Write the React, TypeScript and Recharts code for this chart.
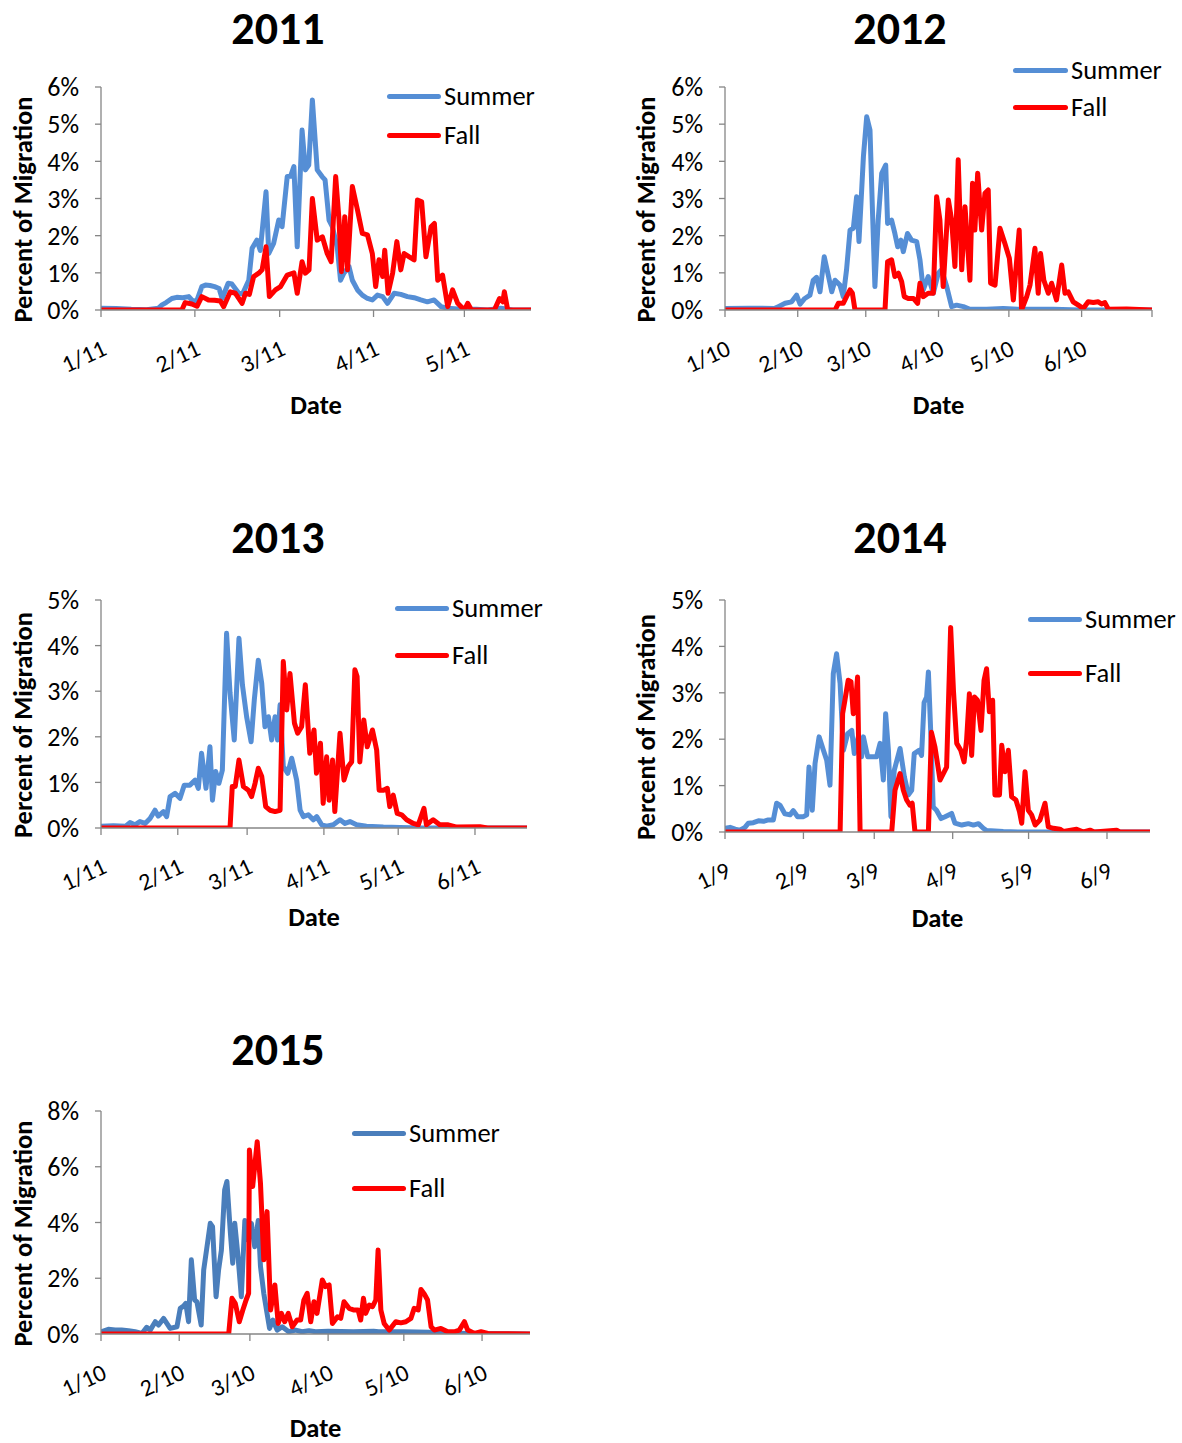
import React from 'react';
import { LineChart, Line, XAxis, YAxis, Legend } from 'recharts';

const FONT = 'Carlito, Lato, "Open Sans", sans-serif';
const AXIS = '#868686';
const BLUE = '#558ED5';
const BLUE2015 = '#4A7EBB';
const RED = '#FF0000';

type P = [number, number][];

// day offset from first tick date, percent of migration
const summer2011: P = [[0,0.05],[5,0.04],[10,0.02],[15,0.01],[19,0.05],[20,0.13],[21.5,0.2],[23.4,0.31],[25,0.34],[27,0.33],[29,0.36],[30,0.27],[31.5,0.22],[33.3,0.63],[34.5,0.67],[36,0.66],[37.5,0.63],[39,0.58],[40,0.31],[42,0.72],[43.2,0.7],[45.5,0.45],[46.8,0.44],[48.8,0.8],[49.9,1.66],[51.5,1.88],[52.6,1.6],[54.5,3.18],[55.4,1.52],[57,1.79],[58.7,2.42],[59.8,2.24],[61.5,3.59],[62.6,3.6],[63.7,3.86],[64.8,1.7],[66.4,4.84],[67.5,3.77],[68.6,3.9],[69.8,5.65],[71.4,3.77],[73,3.59],[74,3.5],[75.3,2.42],[76.4,2.24],[78,1.7],[79.1,0.8],[80.2,0.99],[81.9,1.17],[83,0.8],[84.7,0.54],[86.3,0.4],[88,0.31],[89.6,0.27],[91.3,0.4],[93,0.36],[94.6,0.18],[96.8,0.45],[99,0.42],[101.2,0.36],[103.4,0.33],[105.6,0.27],[107.8,0.22],[110,0.27],[112.3,0.09],[114.5,0.05],[119,0.02],[124,0.02],[127.7,0],[132,0.05],[134.3,0.02],[136,0],[142,0]];
const fall2011: P = [[0,0],[26.7,0],[27.8,0.2],[30,0.16],[31.7,0.1],[33.3,0.36],[35.5,0.27],[37.5,0.26],[39.4,0.24],[40.5,0.09],[42.7,0.49],[44.4,0.45],[46.6,0.18],[47.7,0.45],[49,0.42],[50.4,0.9],[52.1,0.99],[53.2,1.08],[54.5,1.7],[55.6,0.36],[57.6,0.54],[59.3,0.63],[61.5,0.94],[63.7,1.0],[64.8,0.45],[66.4,1.3],[67.5,0.99],[68.7,1.08],[69.8,3.0],[71.4,1.88],[73.1,1.97],[74.7,1.52],[76,1.3],[77.5,3.59],[78.6,2.42],[79.4,1.03],[80.5,2.51],[81.4,1.08],[83,3.32],[84.7,2.69],[86.3,2.06],[88,2.02],[89.6,1.52],[90.7,0.63],[91.8,1.35],[93,0.9],[93.7,1.61],[94.8,0.45],[96.3,0.99],[97.7,1.84],[99,1.08],[100.1,1.52],[101.8,1.43],[103.4,1.35],[104.5,2.96],[105.9,2.91],[107.3,1.43],[109,2.24],[110.1,2.33],[111.2,0.8],[112.8,0.94],[114.5,0.09],[116.1,0.54],[117.8,0.18],[120,0],[121.1,0.18],[122.3,0],[129.9,0],[131.6,0.31],[132.7,0.22],[133.2,0.49],[134.3,0],[142,0]];

const summer2012: P = [[0,0.04],[10,0.05],[21,0.04],[22.7,0.09],[25.6,0.18],[28.4,0.22],[30.5,0.4],[32,0.16],[34,0.31],[36.2,0.4],[37.6,0.8],[39,0.88],[40.5,0.49],[42.3,1.43],[44,0.94],[45.5,0.49],[46.9,0.8],[49,0.67],[50.4,0.36],[51.8,1.08],[53.3,2.15],[54.7,2.2],[56.1,3.05],[57.1,1.84],[59,4.13],[60.4,5.2],[61.8,4.84],[62.8,2.78],[63.9,0.63],[65.3,2.42],[66.8,3.68],[68.5,3.9],[69.3,2.33],[71,2.42],[72.4,2.06],[73.6,1.7],[75,1.88],[76,1.57],[77.8,2.06],[79.5,1.88],[81.7,1.84],[83.1,1.35],[84.5,0.54],[86.6,0.9],[88.8,0.45],[90.9,0.99],[92.3,1.08],[94.5,0.63],[96.6,0.09],[98.7,0.13],[101.6,0.09],[104.4,0.02],[111.5,0.02],[118.6,0.04],[125,0.02],[140,0.02],[151.3,0],[182,0]];
const fall2012: P = [[0,0],[46.9,0],[48.3,0.18],[50.4,0.18],[51.8,0.36],[53.3,0.54],[54.3,0.45],[55.4,0],[68.2,0],[69.3,1.3],[71,1.35],[72.4,0.9],[73.9,0.99],[75.3,0.76],[76.4,0.36],[78.1,0.31],[80.3,0.31],[82.1,0.18],[83.1,0.72],[84.5,0.36],[86.6,0.45],[88.8,0.45],[90.2,3.05],[91.6,2.42],[93,0.63],[95.2,2.96],[96.6,2.42],[98,1.17],[99.4,4.04],[100.9,1.08],[102.3,2.78],[104.4,0.8],[105.5,3.41],[106.5,2.15],[107.7,3.68],[109.4,2.15],[110.8,3.14],[112.2,3.23],[113.2,0.72],[115.1,0.67],[117.2,2.2],[119.3,1.79],[121.2,1.39],[122.9,0.27],[125.4,2.15],[126.4,0],[128.6,0.36],[130,0.67],[132.1,1.66],[133.5,0.45],[134.5,1.52],[135.9,0.8],[137.8,0.45],[139.2,0.72],[141.3,0.27],[143.5,1.21],[144.9,0.45],[146.3,0.49],[148.4,0.22],[150.6,0.13],[152.7,0.04],[154.8,0.22],[157,0.2],[159.1,0.22],[160.5,0.16],[161.9,0.2],[163.4,0.02],[171.2,0.03],[182,0]];

const summer2013: P = [[0,0.04],[5,0.05],[10,0.04],[11.7,0.12],[13.7,0.07],[15.7,0.14],[17.8,0.1],[19.8,0.21],[21.8,0.39],[23.1,0.26],[25.2,0.36],[26.5,0.25],[27.9,0.69],[29.9,0.76],[31.9,0.65],[33.6,0.94],[35.9,0.94],[38,1.05],[39.3,0.87],[40.6,1.64],[42.4,0.87],[44,1.78],[45,0.61],[46.3,1.24],[47.6,0.98],[49,1.27],[50.7,4.27],[52.1,2.96],[53.8,1.93],[55.7,4.16],[57.1,3.14],[58.8,2.44],[60.6,1.89],[61.9,2.81],[63.5,3.68],[64.9,3.17],[66.2,2.22],[67.6,2.44],[68.9,1.93],[70.3,2.44],[71.3,1.93],[72.3,2.7],[73.6,1.35],[75.4,1.2],[77,1.53],[79,1.05],[80.4,0.39],[81.7,0.25],[83.7,0.29],[85.7,0.18],[87.1,0.25],[89.1,0.07],[91.1,0.04],[93.8,0.07],[96.5,0.18],[98.5,0.1],[100.5,0.14],[103.2,0.07],[107.2,0.04],[114,0.02],[120.7,0.01],[130,0],[172,0]];
const fall2013: P = [[0,0],[52.1,0],[53,0.91],[54.2,0.91],[55.7,1.49],[57.5,0.91],[59.5,0.83],[60.8,0.69],[62.2,0.98],[63.5,1.31],[64.9,1.13],[66.5,0.47],[68.2,0.39],[70.3,0.36],[72.3,0.39],[73.6,3.65],[75,2.59],[76.3,3.39],[78.1,2.3],[79.4,2.08],[81,2.22],[82.5,3.14],[84.3,1.64],[86,2.15],[87,1.2],[88.6,1.86],[89.7,0.54],[91.1,1.56],[92.1,0.61],[93.5,1.49],[94.4,0.36],[96.5,2.08],[98.1,1.05],[99.8,1.35],[101.2,1.45],[102.5,3.47],[103.4,3.32],[104.5,1.45],[106.1,2.37],[107.5,1.78],[109.6,2.15],[111.3,1.71],[112.3,0.83],[114,0.83],[115.6,0.87],[116.6,0.47],[118,0.72],[119.6,0.32],[121.4,0.29],[123.4,0.18],[126.1,0.1],[128.1,0.07],[130.4,0.43],[131.4,0.07],[134.1,0.18],[136.8,0.07],[140.2,0.07],[143.6,0.02],[153,0.03],[156,0],[172,0]];

const summer2014: P = [[0,0.08],[2,0.1],[4,0.06],[5.9,0.04],[7.9,0.1],[9.2,0.19],[11.2,0.2],[13.2,0.24],[15.2,0.23],[17.1,0.26],[19.1,0.26],[20.4,0.62],[21.7,0.58],[23.7,0.39],[25.7,0.37],[27,0.46],[28.7,0.33],[31,0.33],[32.3,0.37],[33.2,1.4],[34.5,0.47],[35.6,1.48],[37.2,2.05],[38.9,1.76],[40.2,1.55],[41.5,1.01],[42.8,3.41],[44.1,3.84],[45.5,3.2],[46.8,1.76],[48.5,2.12],[50.1,2.19],[51.1,1.69],[52.7,2.05],[54,1.62],[54.7,2.05],[56.4,1.62],[58.6,1.62],[59.9,1.62],[61.3,1.91],[62.6,1.12],[63.5,2.55],[64.6,1.76],[65.6,0.33],[66.9,1.33],[69.2,1.8],[70.9,1.19],[72.5,0.8],[73.8,0.9],[74.8,1.69],[76.7,1.76],[77.7,1.65],[78.7,2.79],[79.7,2.91],[80.4,3.45],[81.4,2.05],[82.3,0.54],[83.6,0.47],[85.4,0.29],[87,0.33],[89.6,0.4],[90.9,0.19],[93.6,0.15],[96.2,0.18],[98.2,0.15],[100.2,0.18],[102.1,0.08],[103.4,0.03],[110,0.01],[116.6,0],[168,0]];
const fall2014: P = [[0,0],[45.5,0],[46.5,2.55],[47.4,2.84],[48.7,3.27],[49.8,3.24],[50.7,2.55],[51.4,2.62],[52.4,3.34],[53.4,0],[65.9,0],[67.2,0.9],[69.2,1.26],[70.5,0.9],[71.8,0.69],[73.1,0.58],[74,0.62],[75.1,0],[80.4,0],[81.6,2.15],[83,1.83],[85,1.12],[86.3,1.26],[87.6,1.4],[89.2,4.41],[90.3,3.05],[91.6,1.91],[93.2,1.76],[94.5,1.51],[95.5,1.98],[96.6,2.98],[97.5,1.65],[98.6,2.91],[99.8,2.84],[101.2,2.19],[102.4,3.27],[103.4,3.52],[104.5,2.59],[105.8,2.84],[106.7,0.8],[108.5,0.8],[109.4,1.87],[110.7,1.3],[112,1.76],[113.3,0.76],[115,0.69],[116.4,0.44],[117.3,0.19],[118.6,1.3],[119.9,0.47],[121.2,0.37],[122.6,0.15],[124.5,0.26],[126.5,0.62],[127.8,0.11],[129.8,0.08],[132.4,0.06],[133.8,0.01],[139,0.06],[141.7,0],[144.3,0.04],[146,0],[154.8,0.04],[156,0],[168,0]];

const summer2015: P = [[0,0.08],[2.9,0.17],[5.6,0.14],[8.2,0.14],[10.9,0.12],[13.5,0.08],[16.2,0.02],[18.1,0.24],[19.5,0.14],[21.5,0.44],[22.8,0.32],[24.8,0.56],[26.1,0.38],[27.4,0.2],[30.1,0.26],[31.4,0.92],[32.7,1.0],[33.6,1.1],[34.7,0.44],[35.8,2.66],[37.1,1.22],[38,1.16],[39.7,0.32],[40.7,2.3],[42,3.13],[43.3,3.97],[44.2,3.85],[45.6,1.34],[46.6,2.3],[47.7,3.0],[49,5.17],[49.9,5.47],[51.3,3.59],[52.2,2.54],[53,3.97],[54.3,2.78],[55.6,1.34],[57,4.07],[58.3,3.37],[59.6,3.97],[60.9,3.13],[62.3,4.07],[63.2,2.42],[64.5,1.46],[65.8,0.74],[66.8,0.2],[68.1,0.5],[69.8,0.14],[71.8,0.26],[74.4,0.08],[77.1,0.14],[79.7,0.08],[82.4,0.12],[85,0.08],[90,0.1],[100,0.08],[108,0.1],[110,0.08],[120,0.08],[130,0.06],[140,0.03],[150,0.02],[160,0.01],[170,0]];
const fall2015: P = [[0,0],[50.6,0],[51.9,1.28],[53.2,1.1],[54.8,0.44],[56.2,0.86],[57.5,1.22],[58.5,1.46],[58.8,6.6],[60.1,5.29],[61.9,6.9],[63.2,5.4],[64.5,2.66],[65.8,4.39],[67.2,0.86],[68.9,1.76],[70.2,0.38],[71.5,0.74],[72.8,0.44],[74.2,0.74],[75.8,0.26],[77.7,0.5],[79.1,0.5],[80.4,1.22],[81.7,1.46],[83.1,0.44],[84.4,1.16],[85.6,0.74],[87.7,1.94],[89,1.7],[90.4,1.76],[91.7,0.38],[93.7,0.62],[95,0.56],[96.3,1.16],[98.3,0.92],[100.3,0.86],[101.9,0.86],[102.9,0.5],[104,1.28],[104.9,0.74],[106.3,1.04],[107.6,0.98],[108.9,1.22],[109.8,3.01],[110.9,0.86],[112.2,0.38],[114.2,0.14],[116.8,0.44],[118.8,0.4],[120.8,0.44],[122.8,0.56],[124.1,0.92],[125.7,0.86],[126.8,1.6],[128.1,1.44],[129.4,1.22],[130.8,0.26],[132.1,0.14],[134.7,0.2],[137.4,0.08],[140,0.08],[142,0.14],[144,0.44],[145.3,0.14],[148,0.02],[150.6,0.08],[153.3,0.02],[170,0]];

const ticks2011 = [0, 31, 59, 90, 120];
const labels2011 = ['1/11', '2/11', '3/11', '4/11', '5/11'];
const ticks2012 = [0, 31, 60, 91, 121, 152, 182];
const labels2012 = ['1/10', '2/10', '3/10', '4/10', '5/10', '6/10', ''];
const ticks2013 = [0, 31, 59, 90, 120, 151];
const labels2013 = ['1/11', '2/11', '3/11', '4/11', '5/11', '6/11'];
const ticks2014 = [0, 31, 59, 90, 120, 151];
const labels2014 = ['1/9', '2/9', '3/9', '4/9', '5/9', '6/9'];
const ticks2015 = [0, 31, 59, 90, 120, 151];
const labels2015 = ['1/10', '2/10', '3/10', '4/10', '5/10', '6/10'];

const yTicks6 = [0, 1, 2, 3, 4, 5, 6];
const yTicks5 = [0, 1, 2, 3, 4, 5];
const yTicks8 = [0, 2, 4, 6, 8];

const panels = [
  { title: '2011', titleCx: 278, titleTop: 5, svg: { left: 0, top: 50, width: 560, height: 380 }, plot: { left: 101, right: 531, top: 87, bottom: 310 }, yTicks: yTicks6, xMax: 142, xTicks: ticks2011, xLabels: labels2011, summer: summer2011, fall: fall2011, summerColor: BLUE, legend: { x: 387, textX: 444, y1: 96, y2: 135 }, yLabelX: 23, dateY: 405 },
  { title: '2012', titleCx: 900, titleTop: 5, svg: { left: 600, top: 50, width: 582, height: 380 }, plot: { left: 725, right: 1152, top: 87, bottom: 310 }, yTicks: yTicks6, xMax: 182, xTicks: ticks2012, xLabels: labels2012, summer: summer2012, fall: fall2012, summerColor: BLUE, legend: { x: 1013, textX: 1071, y1: 70, y2: 107 }, yLabelX: 646, dateY: 405 },
  { title: '2013', titleCx: 278, titleTop: 514, svg: { left: 0, top: 560, width: 560, height: 380 }, plot: { left: 101, right: 527, top: 600, bottom: 828 }, yTicks: yTicks5, xMax: 172, xTicks: ticks2013, xLabels: labels2013, summer: summer2013, fall: fall2013, summerColor: BLUE, legend: { x: 395, textX: 452, y1: 608, y2: 655 }, yLabelX: 23, dateY: 917 },
  { title: '2014', titleCx: 900, titleTop: 514, svg: { left: 600, top: 560, width: 582, height: 380 }, plot: { left: 725, right: 1150, top: 600, bottom: 832 }, yTicks: yTicks5, xMax: 168, xTicks: ticks2014, xLabels: labels2014, summer: summer2014, fall: fall2014, summerColor: BLUE, legend: { x: 1028, textX: 1085, y1: 619, y2: 673 }, yLabelX: 646, dateY: 918 },
  { title: '2015', titleCx: 278, titleTop: 1026, svg: { left: 0, top: 1072, width: 560, height: 371 }, plot: { left: 101, right: 530, top: 1111, bottom: 1334 }, yTicks: yTicks8, xMax: 170, xTicks: ticks2015, xLabels: labels2015, summer: summer2015, fall: fall2015, summerColor: BLUE2015, legend: { x: 352, textX: 409, y1: 1133, y2: 1188 }, yLabelX: 23, dateY: 1428 },
];

type Cfg = typeof panels[number];

const toRows = (p: P) => p.map(([d, v]) => ({ d, v }));

function XTick(props: any) {
  const { x, payload, c } = props;
  const idx = c.xTicks.indexOf(payload.value);
  const label = idx >= 0 ? c.xLabels[idx] : '';
  const bx = x + 7;
  const by = c.plot.bottom - c.svg.top + 44;
  return (
    <text x={bx} y={by} textAnchor="end" transform={`rotate(-25, ${bx}, ${by})`} fontSize={24} fontFamily={FONT} fill="#000">
      {label}
    </text>
  );
}

function YLab({ c }: { c: Cfg }) {
  const x = c.yLabelX - c.svg.left;
  const y = (c.plot.top + c.plot.bottom) / 2 + 11 - c.svg.top;
  return (
    <text x={x} y={y} transform={`rotate(-90, ${x}, ${y})`} textAnchor="middle" dominantBaseline="central" fontSize={26.5} fontWeight="bold" fontFamily={FONT} fill="#000">
      Percent of Migration
    </text>
  );
}

function DateLab({ c }: { c: Cfg }) {
  const x = (c.plot.left + c.plot.right) / 2 - c.svg.left;
  const y = c.dateY - c.svg.top;
  return (
    <text x={x} y={y} textAnchor="middle" dominantBaseline="central" fontSize={26.5} fontWeight="bold" fontFamily={FONT} fill="#000">
      Date
    </text>
  );
}

function LegendBox({ c }: { c: Cfg }) {
  const top0 = c.legend.y1 - 20;
  const rows = [
    { name: 'Summer', color: c.summerColor, y: c.legend.y1 },
    { name: 'Fall', color: RED, y: c.legend.y2 },
  ];
  return (
    <div style={{ position: 'relative', width: 200, height: c.legend.y2 - top0 + 20 }}>
      {rows.map((r) => (
        <React.Fragment key={r.name}>
          <div style={{ position: 'absolute', left: 0, top: r.y - top0 - 2.5, width: c.legend.textX - c.legend.x - 3, height: 5, borderRadius: 3, background: r.color }} />
          <div style={{ position: 'absolute', left: c.legend.textX - c.legend.x, top: r.y - top0 - 16, height: 32, lineHeight: '32px', fontSize: 26.5, fontFamily: FONT, color: '#000', whiteSpace: 'nowrap' }}>
            {r.name}
          </div>
        </React.Fragment>
      ))}
    </div>
  );
}

function Panel({ c }: { c: Cfg }) {
  const { svg, plot } = c;
  const margin = { top: plot.top - svg.top, right: svg.left + svg.width - plot.right, left: 0, bottom: 0 };
  const xAxisHeight = svg.top + svg.height - plot.bottom;
  const yMax = c.yTicks[c.yTicks.length - 1];
  return (
    <>
      <div style={{ position: 'absolute', left: c.titleCx - 100, top: c.titleTop, width: 200, textAlign: 'center', fontSize: 46, lineHeight: '46px', fontWeight: 'bold', fontFamily: FONT, color: '#000' }}>
        {c.title}
      </div>
      <div style={{ position: 'absolute', left: svg.left, top: svg.top }}>
        <LineChart width={svg.width} height={svg.height} margin={margin} style={{ overflow: 'visible' }}>
          <XAxis
            dataKey="d"
            type="number"
            domain={[0, c.xMax]}
            ticks={c.xTicks}
            interval={0}
            allowDataOverflow
            height={xAxisHeight}
            stroke={AXIS}
            strokeWidth={1.3}
            tickSize={7}
            tick={<XTick c={c} />}
            label={<DateLab c={c} />}
          />
          <YAxis
            type="number"
            domain={[0, yMax]}
            ticks={c.yTicks}
            interval={0}
            allowDataOverflow
            width={plot.left - svg.left}
            stroke={AXIS}
            strokeWidth={1.3}
            tickSize={6}
            tickMargin={16}
            tick={{ fill: '#000', fontSize: 26, fontFamily: FONT }}
            tickFormatter={(v: number) => `${v}%`}
            label={<YLab c={c} />}
          />
          <Legend
            layout="vertical"
            align="center"
            verticalAlign="middle"
            wrapperStyle={{ left: c.legend.x - svg.left, top: c.legend.y1 - 20 - svg.top, width: 200 }}
            content={() => <LegendBox c={c} />}
          />
          <Line data={toRows(c.summer)} dataKey="v" name="Summer" type="linear" stroke={c.summerColor} strokeWidth={5} strokeLinejoin="round" dot={false} activeDot={false} isAnimationActive={false} />
          <Line data={toRows(c.fall)} dataKey="v" name="Fall" type="linear" stroke={RED} strokeWidth={5} strokeLinejoin="round" dot={false} activeDot={false} isAnimationActive={false} />
        </LineChart>
      </div>
    </>
  );
}

export default function App() {
  return (
    <div style={{ position: 'absolute', left: 0, top: 0, width: 1182, height: 1443, background: '#fff', fontFamily: FONT }}>
      {panels.map((c) => (
        <Panel key={c.title} c={c} />
      ))}
    </div>
  );
}
